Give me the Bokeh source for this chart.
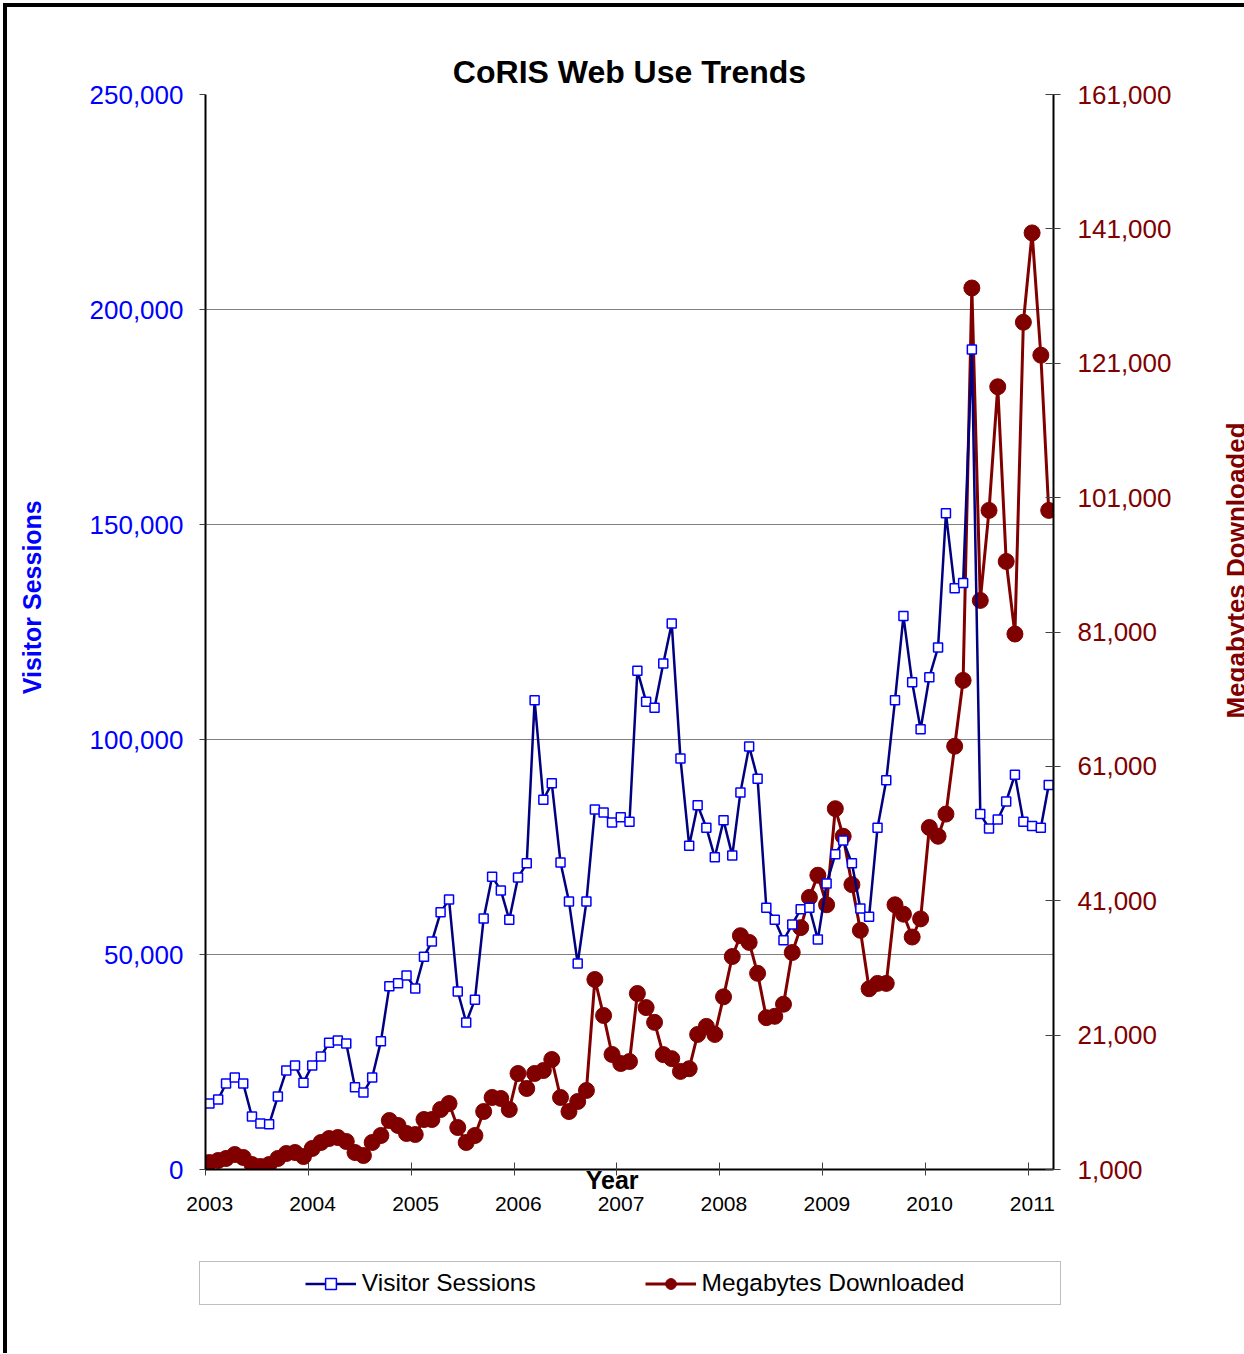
import math
import pandas as pd
from bokeh.plotting import figure
from bokeh.layouts import column, row
from bokeh.models import (Range1d, LinearAxis, DatetimeAxis, FixedTicker, NumeralTickFormatter,
                          Legend, LegendItem, DatetimeTickFormatter, Label)
from bokeh.embed import file_html
from bokeh.resources import INLINE

# ---------------- data (monthly, Jan 2003 .. Mar 2011) ----------------
first_month = "2003-01-01"
visitor_sessions = [
    15350, 16300, 20000, 21400, 20000, 12300, 10700, 10500, 17000, 23000, 24200, 20200,
    24200, 26300, 29500, 30000, 29300, 19100, 17900, 21400, 29800, 42600, 43300, 45100,
    42100, 49500, 53000, 59800, 62800, 41400, 34200, 39500, 58400, 68100, 64900, 58100,
    67900, 71200, 109100, 86000, 89800, 71400, 62300, 47900, 62300, 83700, 83000, 80700,
    81900, 80900, 116000, 108800, 107400, 117700, 127000, 95600, 75300, 84700, 79500, 72600,
    81200, 73000, 87700, 98400, 90900, 60900, 58100, 53300, 57000, 60500, 60900, 53500,
    66500, 73300, 76500, 71200, 60700, 58800, 79500, 90500, 109100, 128700, 113300, 102400,
    114500, 121400, 152600, 135200, 136400, 190700, 82700, 79300, 81400, 85600, 91800, 80900,
    79900, 79500, 89400,
]
megabytes_downloaded = [
    2040, 2340, 2640, 3230, 2790, 1740, 1450, 1740, 2640, 3380, 3530, 2930,
    4130, 5020, 5610, 5760, 5170, 3530, 3080, 5020, 6060, 8290, 7550, 6360,
    6210, 8440, 8440, 9930, 10820, 7250, 5020, 6060, 9630, 11720, 11570, 9930,
    15290, 13060, 15290, 15730, 17370, 11720, 9630, 11120, 12760, 29280, 23920, 18120,
    16780, 17070, 27200, 25100, 22900, 18100, 17500, 15600, 16000, 21100, 22300, 21100,
    26700, 32700, 35800, 34800, 30200, 23600, 23800, 25600, 33300, 37000, 41500, 44800,
    40400, 54700, 50600, 43400, 36600, 27900, 28700, 28700, 40400, 39000, 35600, 38300,
    51900, 50600, 53900, 64000, 73800, 132200, 85700, 99100, 117500, 91500, 80700, 127100,
    140400, 122200, 99100,
]
year_ticks = [2003, 2004, 2005, 2006, 2007, 2008, 2009, 2010, 2011]
left_ticks = [0, 50000, 100000, 150000, 200000, 250000]
right_ticks = [1000, 21000, 41000, 61000, 81000, 101000, 121000, 141000, 161000]

title_text = "CoRIS Web Use Trends"
left_label = "Visitor Sessions"
right_label = "Megabytes Downloaded"
x_label = "Year"

months = pd.date_range(first_month, periods=len(visitor_sessions), freq="MS") + pd.Timedelta(days=14)

FONT = "Liberation Sans"
BLUE = "#0000FF"
NAVY = "#000080"
MAROON = "#800000"
NBSP = "\u00a0"


def ms(ts):
    return pd.Timestamp(ts).value / 1e6


# ---------------- main chart ----------------
p = figure(width=1208, height=1223, output_backend="svg", toolbar_location=None,
           x_axis_type="datetime",
           x_range=Range1d(ms("2003-01-01"), ms("2011-04-01")),
           y_range=Range1d(0, 250000),
           min_border_left=198, min_border_right=162, min_border_top=87, min_border_bottom=61)
p.outline_line_color = None
p.background_fill_color = "white"
p.border_fill_color = "white"

p.title.text = title_text
p.title.align = "center"
p.title.text_font = FONT
p.title.text_font_size = "32px"
p.title.text_font_style = "bold"
p.title.text_color = "black"

year_tick_ms = [ms(f"{y}-01-01") for y in year_ticks]
year_label_ms = [ms(f"{y}-01-16") for y in year_ticks]
year_fmt = dict(years="%Y", months="%Y", days="%Y", hours="%Y", minutes="%Y",
                seconds="%Y", milliseconds="%Y", microseconds="%Y")

# x axis: line + year tick marks (as minor ticks, no labels) + "Year" title
xa = p.xaxis[0]
xa.ticker = FixedTicker(ticks=[], minor_ticks=year_tick_ms)
xa.formatter = DatetimeTickFormatter(**year_fmt)
xa.major_tick_line_color = None
xa.major_tick_in = 0
xa.major_tick_out = 0
xa.minor_tick_line_color = "#404040"
xa.minor_tick_in = 7
xa.minor_tick_out = 6
xa.axis_line_color = "black"
xa.axis_line_width = 2
xa.axis_label = x_label + NBSP * 5
xa.axis_label_standoff = -10
xa.axis_label_text_font = FONT
xa.axis_label_text_font_size = "25px"
xa.axis_label_text_font_style = "bold"
xa.axis_label_text_color = "black"

# x axis year labels (below the "Year" title)
xb = DatetimeAxis(ticker=FixedTicker(ticks=year_label_ms),
                  formatter=DatetimeTickFormatter(**year_fmt))
xb.axis_line_color = None
xb.major_tick_line_color = None
xb.minor_tick_line_color = None
xb.major_tick_in = 0
xb.major_tick_out = 0
xb.major_label_standoff = 0
xb.major_label_text_font = FONT
xb.major_label_text_font_size = "21px"
xb.major_label_text_color = "black"
p.add_layout(xb, "below")

# left axis
ya = p.yaxis[0]
ya.ticker = FixedTicker(ticks=left_ticks)
ya.formatter = NumeralTickFormatter(format="0,0")
ya.major_label_text_font = FONT
ya.major_label_text_font_size = "26px"
ya.major_label_text_color = BLUE
ya.major_label_standoff = 16
ya.major_tick_in = 0
ya.major_tick_out = 6
ya.minor_tick_line_color = None
ya.axis_line_color = "black"
ya.axis_line_width = 2
ya.major_tick_line_color = "#404040"
ya.axis_label = NBSP * 10 + left_label
ya.axis_label_standoff = 41
ya.axis_label_text_font = FONT
ya.axis_label_text_font_size = "25px"
ya.axis_label_text_font_style = "bold"
ya.axis_label_text_color = BLUE

# right axis
p.extra_y_ranges = {"mb": Range1d(1000, 161000)}
ra = LinearAxis(y_range_name="mb", ticker=FixedTicker(ticks=right_ticks),
                formatter=NumeralTickFormatter(format="0,0"))
ra.major_label_text_font = FONT
ra.major_label_text_font_size = "26px"
ra.major_label_text_color = MAROON
ra.major_label_standoff = 17
ra.major_tick_in = 8
ra.major_tick_out = 7
ra.minor_tick_line_color = None
ra.axis_line_color = "black"
ra.axis_line_width = 2
ra.major_tick_line_color = "#404040"
p.add_layout(ra, "right")

p.xgrid.grid_line_color = None
p.ygrid.grid_line_color = "#808080"
p.ygrid.grid_line_width = 1

# series
mb_style = dict(line_color=MAROON, line_width=3)
mb_mark = dict(marker="circle", size=16, fill_color=MAROON, line_color=MAROON)
vs_style = dict(line_color=NAVY, line_width=2.5)
vs_mark = dict(marker="square", size=9, line_color=BLUE, fill_color="white", line_width=1.5)

p.line(months, megabytes_downloaded, y_range_name="mb", **mb_style)
p.scatter(months, megabytes_downloaded, y_range_name="mb", **mb_mark)
p.line(months, visitor_sessions, **vs_style)
p.scatter(months, visitor_sessions, **vs_mark)

# ---------------- right-hand axis title (reads bottom to top) ----------------
rf = figure(width=29, height=1223, output_backend="svg", toolbar_location=None,
            x_range=Range1d(0, 1), y_range=Range1d(0, 1),
            x_axis_location=None, y_axis_location=None,
            min_border_left=0, min_border_right=0, min_border_top=0, min_border_bottom=0)
rf.outline_line_color = None
rf.xgrid.visible = False
rf.ygrid.visible = False
rf.add_layout(Label(x=20, y=599, x_units="screen", y_units="screen", text=right_label,
                    angle=math.pi / 2, text_align="center", text_baseline="alphabetic",
                    text_font=FONT, text_font_size="26px", text_font_style="bold",
                    text_color=MAROON))

# ---------------- legend strip ----------------
lf = figure(width=1237, height=123, output_backend="svg", toolbar_location=None,
            x_range=Range1d(0, 1), y_range=Range1d(0, 1),
            x_axis_location=None, y_axis_location=None,
            min_border_left=0, min_border_right=0, min_border_top=0, min_border_bottom=0)
lf.outline_line_color = None
lf.xgrid.visible = False
lf.ygrid.visible = False
# legend swatches: same series, lying outside this strip's ranges so only the legend shows
spacer = lf.line(months, visitor_sessions, line_alpha=0)
lg_vs_line = lf.line(months, visitor_sessions, **vs_style)
lg_vs_pts = lf.scatter(months, visitor_sessions, **vs_mark)
lg_mb_line = lf.line(months, megabytes_downloaded, **mb_style)
lg_mb_pts = lf.scatter(months, megabytes_downloaded, **mb_mark)

legend = Legend(items=[
    LegendItem(label=NBSP * 6, renderers=[spacer]),
    LegendItem(label=left_label + NBSP * 16, renderers=[lg_vs_line, lg_vs_pts]),
    LegendItem(label=right_label + NBSP * 13, renderers=[lg_mb_line, lg_mb_pts]),
], orientation="horizontal", location=(192, 48), spacing=0, padding=7, margin=0,
    glyph_width=51, glyph_height=27, label_standoff=6,
    label_text_font=FONT, label_text_font_size="24.5px", label_text_color="black",
    border_line_color="#808080", border_line_width=1, background_fill_color="white")
lf.add_layout(legend)

root = column(row(p, rf), lf)
root.styles = {"margin-left": "3px", "margin-top": "3px",
               "border-left": "4px solid black", "border-top": "4px solid black"}

open("out.html", "w").write(file_html(root, INLINE))
